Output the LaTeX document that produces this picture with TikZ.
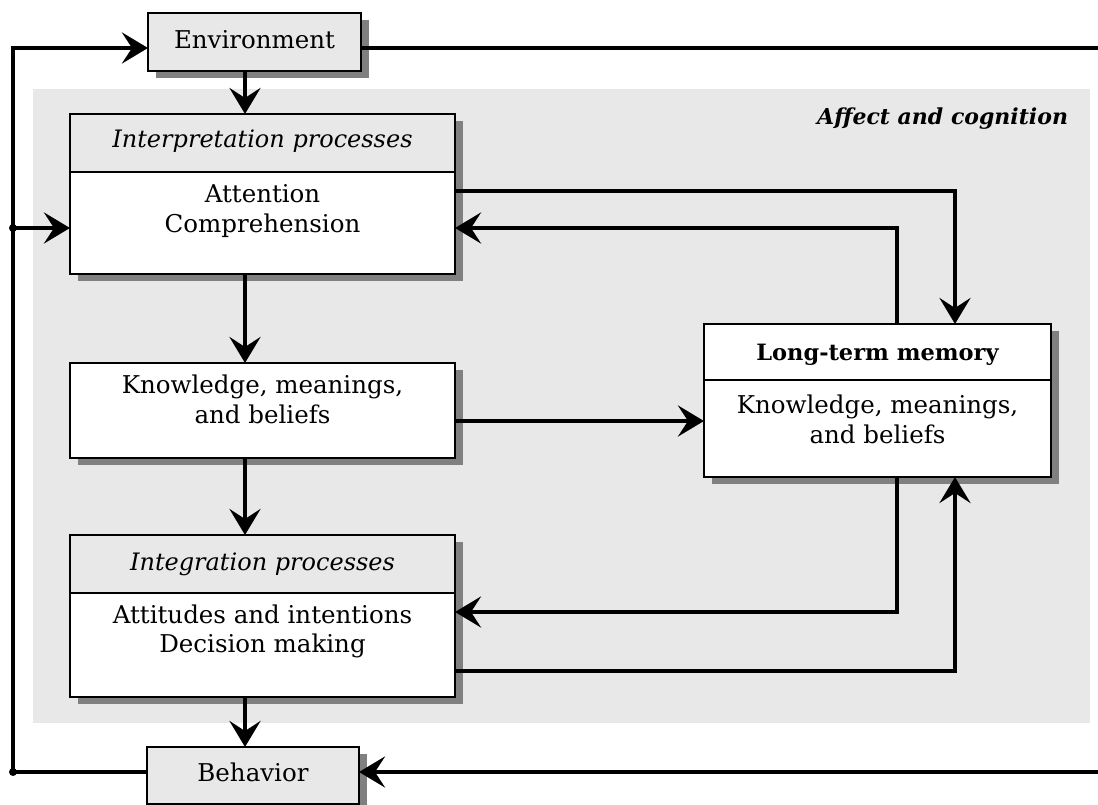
\documentclass[tikz,border=0pt]{standalone}
\usepackage{fontspec}
\setmainfont{DejaVu Serif}
\usetikzlibrary{arrows.meta,shadows}
\definecolor{panelgray}{HTML}{E8E8E8}
\definecolor{shadowgray}{HTML}{808080}
\begin{document}
\begin{tikzpicture}[x=1pt,y=-1pt,
  every node/.style={inner sep=0pt,outer sep=0pt},
  box/.style={draw=black,line width=2pt,fill=white,
    drop shadow={shadow xshift=8pt,shadow yshift=-7pt,fill=shadowgray,opacity=1}},
  graybox/.style={box,fill=panelgray},
  txt/.style={anchor=base,font=\fontsize{24.5}{29}\selectfont},
  itxt/.style={txt,font=\fontsize{24}{29}\selectfont\itshape},
  btxt/.style={txt,font=\fontsize{22.5}{27}\selectfont\bfseries},
  conn/.style={line width=4.5pt,line join=miter},
  arr/.style={conn,-{Stealth[length=26pt,width=31pt,inset=10pt]}},
  dot/.style={circle,fill=black,minimum size=8pt}
]
\useasboundingbox (0,0) rectangle (1098,805);
% panel
\fill[panelgray] (33,89) rectangle (1090,723);
\node[anchor=base east,font=\fontsize{22}{27}\selectfont\bfseries\itshape] (affect) at (1068,125) {Affect and cognition};

% boxes
\node[graybox,minimum width=213pt,minimum height=58pt] (env) at (254.5,42) {};
\node[box,minimum width=385pt,minimum height=160pt] (interp) at (262.5,194) {};
\node[box,minimum width=385pt,minimum height=95pt] (know) at (262.5,410.5) {};
\node[box,minimum width=385pt,minimum height=162pt] (integ) at (262.5,616) {};
\node[box,minimum width=347pt,minimum height=153pt] (ltm) at (877.5,400.5) {};
\node[graybox,minimum width=212pt,minimum height=57pt] (beh) at (253,775.5) {};

% headers
\coordinate (d1) at (0,172);
\coordinate (d2) at (0,593);
\coordinate (d3) at (0,380);
\filldraw[fill=panelgray,line width=2pt] (interp.north west) rectangle (interp.east |- d1);
\filldraw[fill=panelgray,line width=2pt] (integ.north west) rectangle (integ.east |- d2);
\draw[line width=2pt] (ltm.west |- d3) -- (ltm.east |- d3);

% texts
\node[txt] (tenv) at (254.5,49) {Environment};
\node[itxt] (tinterp) at (262.5,148) {Interpretation processes};
\node[txt] (tatt) at (262.5,203) {Attention};
\node[txt] (tcomp) at (262.5,233) {Comprehension};
\node[txt] (tk1) at (262.5,393) {Knowledge, meanings,};
\node[txt] (tk2) at (262.5,423) {and beliefs};
\node[itxt] (tinteg) at (262.5,570) {Integration processes};
\node[txt] (tatti) at (262.5,623) {Attitudes and intentions};
\node[txt] (tdec) at (262.5,652) {Decision making};
\node[btxt] (tltm) at (877.5,360) {Long-term memory};
\node[txt] (tl1) at (877.5,413) {Knowledge, meanings,};
\node[txt] (tl2) at (877.5,443) {and beliefs};
\node[txt] (tbeh) at (253,781) {Behavior};

% helper coordinates
\coordinate (cx) at (245,0);
\coordinate (r1) at (955,0);
\coordinate (r2) at (897,0);
\coordinate (lx) at (13,0);
\coordinate (h48) at (0,48);
\coordinate (h191) at (0,191);
\coordinate (h228) at (0,228);
\coordinate (h421) at (0,421);
\coordinate (h612) at (0,612);
\coordinate (h671) at (0,671);
\coordinate (h772) at (0,772);
\coordinate (envout) at (1098,48);
\coordinate (behin) at (1098,772);
\coordinate (corner) at (13,772);
\coordinate (junc) at (13,228);

% vertical chain
\draw[arr] (env.south -| cx) -- (interp.north -| cx);
\draw[arr] (interp.south -| cx) -- (know.north -| cx);
\draw[arr] (know.south -| cx) -- (integ.north -| cx);
\draw[arr] (integ.south -| cx) -- (beh.north -| cx);

% memory links
\draw[arr] (interp.east |- h191) -- (r1 |- h191) -- (ltm.north -| r1);
\draw[arr] (ltm.north -| r2) -- (r2 |- h228) -- (interp.east |- h228);
\draw[arr] (know.east |- h421) -- (ltm.west |- h421);
\draw[arr] (ltm.south -| r2) -- (r2 |- h612) -- (integ.east |- h612);
\draw[arr] (integ.east |- h671) -- (r1 |- h671) -- (ltm.south -| r1);

% outer loop
\draw[conn] (env.east |- h48) -- (envout);
\draw[arr] (behin) -- (beh.east |- h772);
\draw[arr] (beh.west |- h772) -- (corner) -- (lx |- h48) -- (env.west |- h48);
\draw[arr] (junc) -- (interp.west |- h228);
\node[dot] (jdot) at (junc) {};
\node[dot] (cdot) at (corner) {};
\end{tikzpicture}
\end{document}
